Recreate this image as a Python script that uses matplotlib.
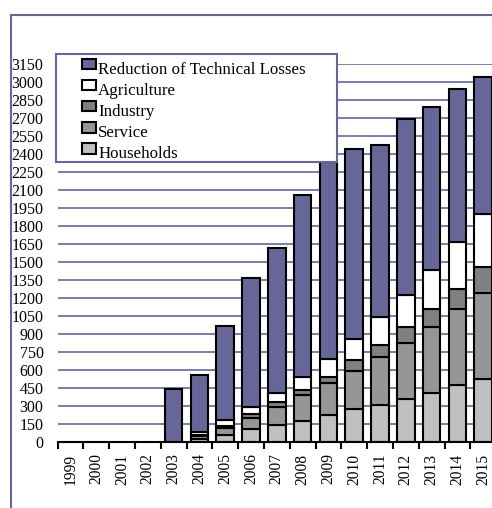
import numpy as np
import matplotlib
matplotlib.use("Agg")
import matplotlib.pyplot as plt
from matplotlib.patches import Rectangle, Patch
from matplotlib.legend_handler import HandlerPatch

years = ["1999", "2000", "2001", "2002", "2003", "2004", "2005", "2006", "2007",
         "2008", "2009", "2010", "2011", "2012", "2013", "2014", "2015"]
households = [0, 0, 0, 0, 0, 30, 65, 113, 147, 180, 229, 277, 311, 362, 413, 478, 528]
service = [0, 0, 0, 0, 0, 20, 55, 92, 150, 217, 268, 320, 402, 468, 550, 633, 719]
industry = [0, 0, 0, 0, 0, 15, 20, 31, 36, 39, 47, 86, 98, 132, 148, 167, 216]
agriculture = [0, 0, 0, 0, 0, 21, 46, 61, 80, 111, 153, 178, 236, 268, 325, 389, 437]
technical = [0, 0, 0, 0, 445, 479, 784, 1073, 1210, 1518, 1636, 1583, 1431, 1462, 1361, 1277, 1147]

series = [("Households", households, "#c0c0c0"),
          ("Service", service, "#969696"),
          ("Industry", industry, "#808080"),
          ("Agriculture", agriculture, "#ffffff"),
          ("Reduction of Technical Losses", technical, "#666699")]

plt.rcParams["font.family"] = ["Liberation Serif", "DejaVu Serif"]
navy = "#666699"

fig = plt.figure(figsize=(4.92, 5.08), dpi=100)
ax = fig.add_axes([57.5 / 492, 1 - 442.3 / 508, 17 * 25.8 / 492, 378 / 508])

x = np.arange(len(years))
bottom = np.zeros(len(years))
for name, vals, col in series:
    vals = np.array(vals, dtype=float)
    keep = vals > 0  # skip empty segments so no stray edges at zero
    ax.bar(x[keep], vals[keep], 0.68, bottom=bottom[keep], color=col,
           edgecolor="black", linewidth=1.5)
    bottom += vals

ax.set_xlim(-0.5, len(years) - 0.5)
ax.set_ylim(0, 3150)
ax.set_yticks(np.arange(0, 3151, 150))
ax.set_xticks(x)
ax.set_xticklabels(years, rotation=90, fontsize=11.2)
ax.set_xticks(np.arange(-0.5, len(years)), minor=True)
ax.tick_params(axis="x", which="major", length=0, pad=8)
ax.tick_params(axis="x", which="minor", length=5, width=1.5, color="black")
ax.tick_params(axis="y", length=0, pad=10, labelsize=11.5)
ax.yaxis.grid(True, color=navy, linewidth=1.2)
ax.set_axisbelow(True)
for s in ("top", "right", "left"):
    ax.spines[s].set_visible(False)
ax.spines["bottom"].set_linewidth(1.5)

# chart border
fig.patches.append(Rectangle((11 / 492, -0.2), 1.5, 1.2 - 15 / 508, transform=fig.transFigure,
                             fill=False, edgecolor=navy, linewidth=1.5, zorder=0))
# legend box
fig.patches.append(Rectangle((56 / 492, 1 - 161.5 / 508), 281 / 492, 108 / 508,
                             transform=fig.transFigure, facecolor="white",
                             edgecolor=navy, linewidth=1.5, zorder=4))


def raised_box(legend, orig_handle, xdescent, ydescent, width, height, fontsize):
    return Rectangle((-xdescent, -ydescent + 2.5), width, height)


handles = [Patch(facecolor=c, edgecolor="black", linewidth=1.5, label=n) for n, v, c in series[::-1]]
leg = fig.legend(handles=handles, loc="upper left", bbox_to_anchor=(82 / 492, 1 - 61.5 / 508),
                 frameon=False, fontsize=12.2, borderpad=0, borderaxespad=0,
                 handlelength=0.8, handleheight=0.58, handletextpad=0.15, labelspacing=0.3,
                 handler_map={Patch: HandlerPatch(patch_func=raised_box)})
leg.set_zorder(5)

fig.savefig("out.png", dpi=100)
